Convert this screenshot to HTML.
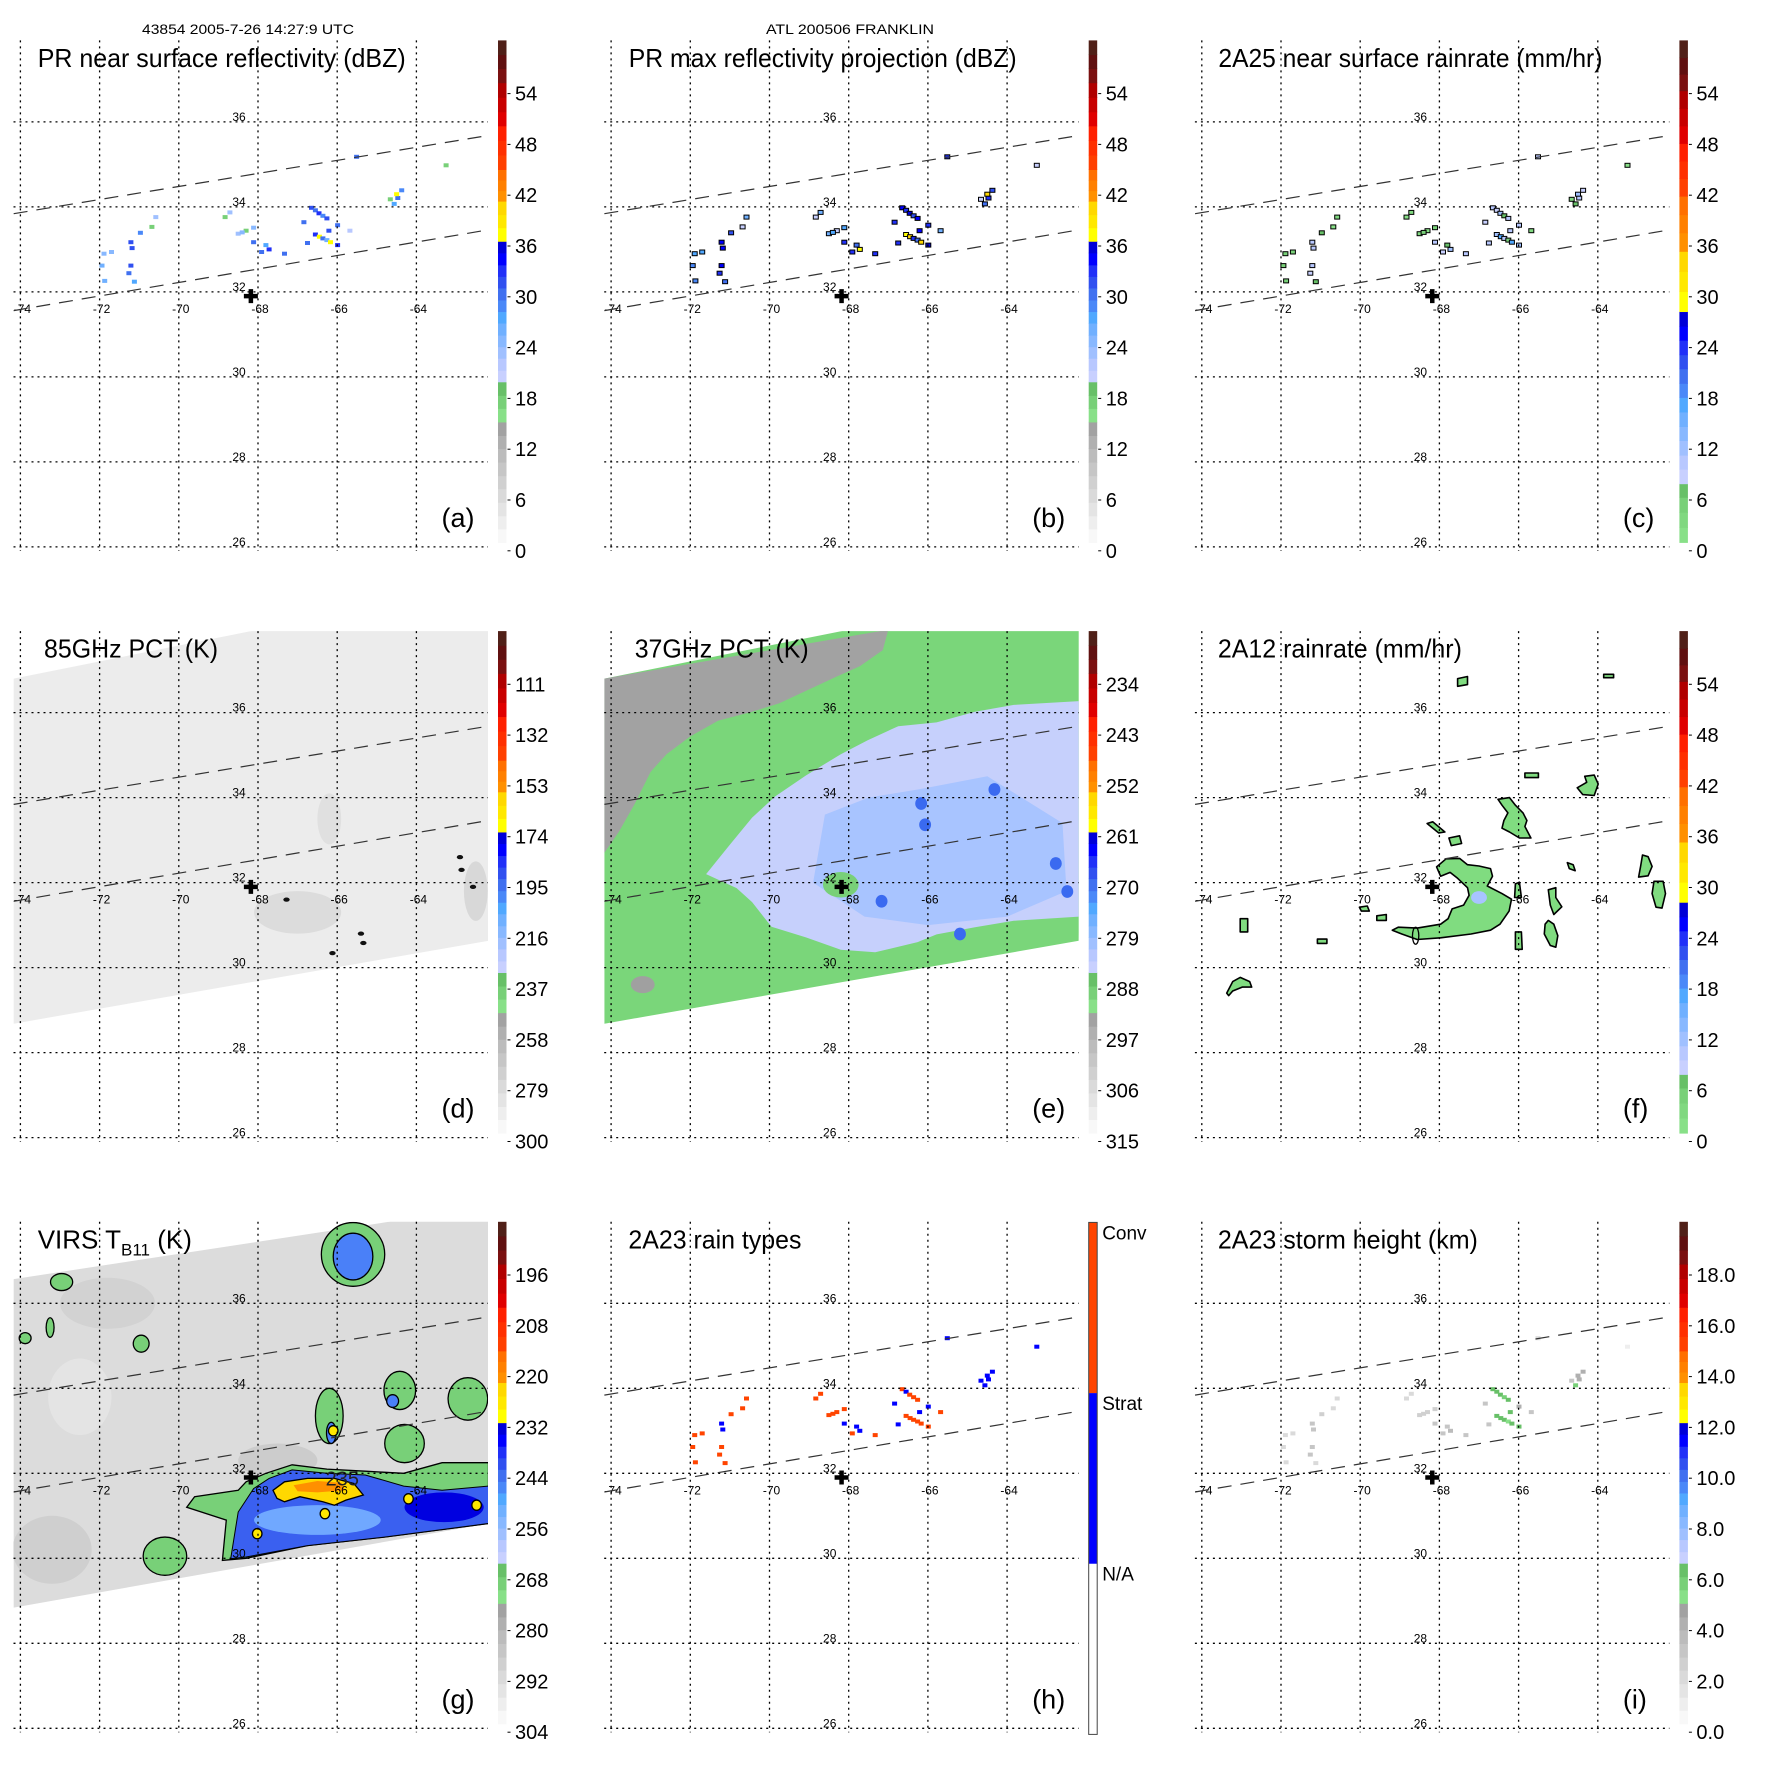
<!DOCTYPE html>
<html><head><meta charset="utf-8">
<style>
html,body{margin:0;padding:0;background:#fff;}
svg{display:block;font-family:"Liberation Sans",Arial,sans-serif;}
</style></head>
<body>
<svg id="fig" width="1771" height="1771" viewBox="0 0 1771 1771" xmlns="http://www.w3.org/2000/svg">
<rect x="0" y="0" width="1771" height="1771" fill="#fff"/>
<text x="142" y="34" font-size="14" textLength="212" lengthAdjust="spacingAndGlyphs">43854 2005-7-26 14:27:9 UTC</text>
<text x="766" y="34" font-size="14" textLength="168" lengthAdjust="spacingAndGlyphs">ATL 200506 FRANKLIN</text>
</svg>
<script>
// ---------- data ----------
const lonTicks = [-74, -72, -70, -68, -66, -64];
const latTicks = [26, 28, 30, 32, 34, 36];
const centerLon = -68.18, centerLat = 31.9;
// PR rain cells
const prLon = [-64.47,-64.37,-64.56,-64.66,-64.50,-66.65,-66.55,-66.46,-66.36,-66.26,-65.99,-66.21,-66.55,-66.45,-66.36,-66.26,-66.17,-65.99,-65.68,-66.75,-66.84,-68.11,-67.72,-67.33,-67.91,-68.50,-68.30,-68.71,-68.83,-68.11,-70.58,-70.68,-70.97,-71.21,-71.18,-71.21,-71.26,-71.70,-71.89,-71.94,-71.87,-71.12,-65.51,-63.25,-68.40,-67.80];
const prLat = [34.21,34.39,34.07,34.18,34.30,33.98,33.92,33.85,33.79,33.73,33.57,33.44,33.35,33.30,33.26,33.22,33.17,33.10,33.44,33.15,33.64,33.17,33.00,32.90,32.94,33.37,33.44,33.87,33.76,33.51,33.76,33.53,33.39,33.17,33.03,32.62,32.44,32.94,32.90,32.62,32.26,32.24,35.18,34.98,33.40,33.10];
const prDbz = [30,28,27,17,37,31,29,32,28,31,30,31,33,37,30,26,37,32,22,30,29,30,33,30,29,23,17,23,17,24,23,17,28,31,31,31,29,24,24,25,25,27,30,17,24,27];
const prRain = [9,8,7,2,12,10,8,11,7,10,9,10,12,16,9,5,16,11,3,9,8,9,12,9,8,3,1,3,1,4,3,1,7,10,10,10,8,4,4,5,5,7,9,1,4,7];
const prType = ['S','S','S','S','S','C','S','C','C','C','S','S','C','C','C','C','C','C','C','S','S','S','S','C','C','C','C','C','C','C','C','C','C','S','S','C','C','C','C','C','C','C','S','S','C','S'];
const prHeight = [4,4,5.5,3,4,6,6,6,5.5,6,4,6,6,6,6,5,6,6,3,3,3,3,3.5,3,3,2.5,2.5,2,2,2.5,2,2,2.5,3,3,3,3,2,2,2,2,2,2,1,2.5,3];
// colour bar tick labels
const dbzLabels = ['0','6','12','18','24','30','36','42','48','54'];
const pct85Labels = ['300','279','258','237','216','195','174','153','132','111'];
const pct37Labels = ['315','306','297','288','279','270','261','252','243','234'];
const virsLabels = ['304','292','280','268','256','244','232','220','208','196'];
const heightLabels = ['0.0','2.0','4.0','6.0','8.0','10.0','12.0','14.0','16.0','18.0'];
const typeLabels = ['N/A','Strat','Conv'];
// swath geometry (lon/lat)
const prSwathUpper = [[-74.17,33.84],[-62.19,35.68]];
const prSwathLower = [[-74.17,31.56],[-62.19,33.46]];
const pmiSwath = [[-74.17,36.80],[-68.0,37.95],[-62.0,37.95],[-62.19,30.63],[-74.17,28.68]];
const pct37Gray = [[-74.17,36.80],[-67.0,37.95],[-67.14,37.47],[-67.72,37.09],[-68.3,36.85],[-69.08,36.51],[-69.75,36.22],[-70.44,36.02],[-71.3,35.81],[-72.0,35.44],[-72.6,35.02],[-73.0,34.61],[-73.4,33.86],[-73.8,33.2],[-74.17,32.7]];
const pct37Lav = [[-69.85,34.03],[-69.08,34.52],[-68.2,35.02],[-67.52,35.35],[-66.75,35.68],[-65.78,35.77],[-64.81,36.02],[-63.83,36.18],[-62.18,36.27],[-62.18,31.2],[-63.83,31.1],[-64.81,30.95],[-65.78,30.78],[-66.26,30.6],[-67.33,30.36],[-68.2,30.42],[-69.08,30.71],[-69.95,30.96],[-70.44,31.54],[-70.83,31.87],[-71.6,32.2],[-71.02,32.87],[-70.44,33.53]];
const pct37Blue = [[-68.6,33.6],[-67.5,34.0],[-66.2,34.2],[-64.5,34.5],[-62.6,33.4],[-62.5,31.8],[-64.0,31.2],[-66.0,31.0],[-67.6,31.2],[-68.9,32.0]];
const pct37Spots = [[-67.17,31.56],[-62.48,31.79],[-65.19,30.79],[-66.17,33.86],[-66.07,33.36],[-64.32,34.19],[-62.77,32.45]];
const pct85Spots = [[-67.28,31.6],[-65.34,30.58],[-62.86,32.3],[-62.57,31.9],[-66.12,30.34],[-62.9,32.6],[-65.4,30.8]];
const virsSwath = [[-74.17,36.57],[-64.47,37.95],[-62.0,37.95],[-62.18,30.82],[-74.17,28.84]];
const virsStormGreen = [[-68.9,29.95],[-68.8,30.9],[-69.8,31.2],[-69.6,31.45],[-68.5,31.6],[-68.3,31.8],[-67.8,32.0],[-67.14,32.2],[-66.26,32.1],[-65.29,32.05],[-64.32,32.0],[-63.35,32.25],[-62.18,32.25],[-62.18,30.82],[-64.81,30.5],[-66.75,30.3],[-68.3,30.0]];
const virsStormBlue = [[-68.69,29.99],[-68.5,31.09],[-68.11,31.64],[-67.72,31.88],[-67.14,32.08],[-66.26,32.0],[-65.29,31.96],[-64.32,31.7],[-63.35,31.6],[-62.18,31.7],[-62.18,30.82],[-64.81,30.5],[-66.75,30.3],[-68.3,30.03]];
const virsCore = [[-67.62,31.60],[-67.33,31.80],[-66.75,31.88],[-66.07,31.88],[-65.58,31.76],[-65.34,31.49],[-65.78,31.37],[-66.07,31.25],[-66.36,31.33],[-66.94,31.45],[-67.33,31.33],[-67.52,31.41]];
const virsOrange = [[-67.1,31.72],[-66.5,31.82],[-65.9,31.78],[-65.8,31.6],[-66.5,31.55],[-67.0,31.58]];
const virsYellowSpots = [[-62.48,31.25],[-66.31,31.05],[-68.02,30.58],[-66.1,33.0],[-64.2,31.4]];
const virsGreenClusters = [[-65.6,37.15,0.8,0.75],[-66.2,33.35,0.35,0.65],[-64.42,33.95,0.4,0.45],[-62.7,33.75,0.5,0.5],[-64.3,32.7,0.5,0.45],[-70.35,30.05,0.55,0.45],[-73.25,35.43,0.1,0.23],[-73.88,35.18,0.15,0.13],[-72.96,36.5,0.28,0.2],[-70.95,35.05,0.2,0.2]];
const virsBlueClusters = [[-65.6,37.1,0.5,0.55],[-66.15,32.95,0.12,0.25],[-64.6,33.7,0.15,0.15]];
const f12Blobs = [
 [[-68.07,32.37],[-67.83,32.56],[-67.49,32.57],[-67.29,32.42],[-67.0,32.39],[-66.71,32.33],[-66.66,32.15],[-66.79,31.92],[-66.42,31.74],[-66.18,31.61],[-66.24,31.33],[-66.47,31.02],[-66.71,30.88],[-67.2,30.79],[-67.97,30.7],[-68.56,30.66],[-68.95,30.79],[-69.19,30.88],[-69.04,30.95],[-68.56,30.93],[-67.97,31.02],[-67.78,31.15],[-67.68,31.38],[-67.39,31.47],[-67.25,31.7],[-67.29,31.88],[-67.54,32.1],[-67.73,32.24],[-67.97,32.15]],
 [[-66.52,33.96],[-66.23,34.0],[-66.08,33.82],[-65.89,33.64],[-65.79,33.46],[-65.84,33.32],[-65.69,33.05],[-65.98,33.05],[-66.23,33.19],[-66.42,33.28],[-66.37,33.46],[-66.27,33.64],[-66.42,33.82]],
 [[-64.33,34.5],[-64.09,34.53],[-63.99,34.32],[-64.09,34.05],[-64.38,34.07],[-64.52,34.23],[-64.28,34.36]],
 [[-73.37,29.4],[-73.22,29.67],[-73.03,29.77],[-72.79,29.67],[-72.74,29.54],[-72.98,29.54],[-73.22,29.45],[-73.32,29.34]],
 [[-65.25,31.11],[-65.11,31.02],[-65.01,30.75],[-65.06,30.48],[-65.2,30.52],[-65.35,30.79],[-65.33,31.02]],
 [[-65.25,31.83],[-65.06,31.88],[-65.06,31.65],[-64.91,31.43],[-65.11,31.25],[-65.2,31.47]],
 [[-66.08,30.84],[-65.93,30.84],[-65.91,30.43],[-66.08,30.43]],
 [[-66.08,31.97],[-65.98,32.01],[-65.93,31.65],[-66.1,31.65]],
 [[-62.87,32.65],[-62.73,32.61],[-62.63,32.38],[-62.73,32.16],[-62.97,32.13],[-62.92,32.38]],
 [[-62.58,32.03],[-62.35,32.03],[-62.29,31.74],[-62.38,31.4],[-62.53,31.42],[-62.63,31.74]],
 [[-67.76,33.05],[-67.49,33.1],[-67.44,32.92],[-67.7,32.87]],
 [[-68.31,33.39],[-68.17,33.43],[-67.86,33.19],[-68.02,33.17]],
 [[-70.02,31.42],[-69.82,31.45],[-69.77,31.33],[-69.97,31.33]],
 [[-69.58,31.22],[-69.34,31.25],[-69.34,31.11],[-69.58,31.11]],
 [[-73.03,31.15],[-72.84,31.15],[-72.84,30.84],[-73.03,30.84]],
 [[-71.08,30.67],[-70.84,30.67],[-70.84,30.57],[-71.08,30.57]],
 [[-65.84,34.58],[-65.5,34.58],[-65.5,34.47],[-65.84,34.47]],
 [[-67.54,36.8],[-67.29,36.85],[-67.29,36.66],[-67.54,36.62]],
 [[-63.85,36.9],[-63.6,36.9],[-63.6,36.82],[-63.85,36.82]],
 [[-64.77,32.47],[-64.62,32.42],[-64.57,32.28],[-64.72,32.33]]
];

// ---------- palettes ----------
const palDbz = [[0,'#f8f8f8'],[0.027,'#eeeeee'],[0.053,'#e4e4e4'],[0.08,'#dadada'],[0.107,'#d0d0d0'],[0.133,'#c6c6c6'],[0.16,'#bcbcbc'],[0.187,'#b0b0b0'],[0.213,'#a2a2a2'],[0.24,'#88e088'],[0.267,'#78d078'],[0.293,'#68c068'],[0.32,'#c8d0ff'],[0.343,'#b8c8ff'],[0.367,'#a0c0ff'],[0.39,'#88b8ff'],[0.413,'#70b0ff'],[0.437,'#50a8ff'],[0.46,'#4a88f8'],[0.483,'#4070f0'],[0.507,'#3050f0'],[0.53,'#2030f8'],[0.553,'#0000ff'],[0.577,'#0000d8'],[0.6,'#ffff00'],[0.627,'#ffe800'],[0.653,'#ffd800'],[0.68,'#ff9000'],[0.701,'#ff8000'],[0.722,'#ff7000'],[0.743,'#ff4000'],[0.772,'#ff3000'],[0.801,'#ff2000'],[0.83,'#e00000'],[0.858,'#c80000'],[0.887,'#b00000'],[0.916,'#7a1010'],[0.944,'#601010'],[0.972,'#502018']];
const palRain = [[0,'#88e088'],[0.03,'#80d880'],[0.06,'#78d078'],[0.09,'#68c068'],[0.117,'#c8d0ff'],[0.146,'#b8c8ff'],[0.174,'#a0c0ff'],[0.203,'#88b8ff'],[0.231,'#70b0ff'],[0.26,'#50a8ff'],[0.289,'#4a88f8'],[0.317,'#4070f0'],[0.346,'#3050f0'],[0.374,'#2030f8'],[0.403,'#0000ff'],[0.431,'#0000d8'],[0.46,'#ffff00'],[0.5,'#ffe800'],[0.54,'#ffd800'],[0.58,'#ff9000'],[0.617,'#ff8000'],[0.653,'#ff7000'],[0.69,'#ff4000'],[0.725,'#ff3000'],[0.76,'#ff2000'],[0.795,'#e00000'],[0.83,'#c80000'],[0.865,'#b00000'],[0.9,'#7a1010'],[0.933,'#601010'],[0.966,'#502018']];
function palColor(pal, f){ let c = pal[0][1]; for (const b of pal){ if (f >= b[0]) c = b[1]; } return c; }

// ---------- geometry ----------
const SVGNS = 'http://www.w3.org/2000/svg';
const svg = document.getElementById('fig');
const STEP = 590.7;
const LONPX = 39.6, LATPX = 42.5;
function X(p, lon){ return p.ox + 20.4 + (lon + 74) * LONPX; }
function Y(p, lat){ return p.oy + 546.9 - (lat - 26) * LATPX; }
function mk(tag, attrs, parent){ const e = document.createElementNS(SVGNS, tag); for (const k in attrs) e.setAttribute(k, attrs[k]); (parent || svg).appendChild(e); return e; }
function pts(p, arr){ return arr.map(a => X(p,a[0]).toFixed(1) + ',' + Y(p,a[1]).toFixed(1)).join(' '); }

const panels = [
 {id:'a', col:0,row:0, title:'PR near surface reflectivity (dBZ)', tx:37.7, tw:368, pal:palDbz, labels:dbzLabels},
 {id:'b', col:1,row:0, title:'PR max reflectivity projection (dBZ)', tx:38, tw:388, pal:palDbz, labels:dbzLabels},
 {id:'c', col:2,row:0, title:'2A25 near surface rainrate (mm/hr)', tx:37, tw:384, pal:palRain, labels:dbzLabels},
 {id:'d', col:0,row:1, title:'85GHz PCT (K)', tx:44, tw:174, pal:palDbz, labels:pct85Labels},
 {id:'e', col:1,row:1, title:'37GHz PCT (K)', tx:44, tw:174, pal:palDbz, labels:pct37Labels},
 {id:'f', col:2,row:1, title:'2A12 rainrate (mm/hr)', tx:36.5, tw:244, pal:palRain, labels:dbzLabels},
 {id:'g', col:0,row:2, title:'VIRS', tx:37.7, tw:146, pal:palDbz, labels:virsLabels},
 {id:'h', col:1,row:2, title:'2A23 rain types', tx:37.7, tw:173, pal:null, labels:typeLabels},
 {id:'i', col:2,row:2, title:'2A23 storm height (km)', tx:36.5, tw:260, pal:palDbz, labels:heightLabels}
];

function drawCells(p, g, colorFn, stroke){
  for (let i = 0; i < prLon.length; i++){
    const r = mk('rect', {x:(X(p,prLon[i])-2.5).toFixed(1), y:(Y(p,prLat[i])-2).toFixed(1), width:5, height:4, fill:colorFn(i)}, g);
    if (stroke) { r.setAttribute('stroke','#000'); r.setAttribute('stroke-width','1'); }
    
    
  }
}
function ellipse(p, g, c, fill, stroke, name){
  const e = mk('ellipse', {cx:X(p,c[0]), cy:Y(p,c[1]), rx:c[2]*LONPX, ry:c[3]*LATPX, fill:fill}, g);
  if (stroke) { e.setAttribute('stroke', stroke); e.setAttribute('stroke-width','1.3'); }
  
  
  return e;
}

panels.forEach(p => {
  p.ox = p.col * STEP; p.oy = p.row * STEP;
  const pg = mk('g', {});
  
  
  const cp = mk('clipPath', {id:'clip-' + p.id}, pg);
  mk('rect', {x:p.ox+13.5, y:p.oy+40.4, width:474.5, height:510.6}, cp);
  const dg = mk('g', {'clip-path':'url(#clip-' + p.id + ')'}, pg);
  
  

  if (p.id === 'a') drawCells(p, dg, i => palColor(palDbz, prDbz[i]/60), false);
  if (p.id === 'b') drawCells(p, dg, i => palColor(palDbz, (prDbz[i]+3)/60), true);
  if (p.id === 'c') drawCells(p, dg, i => palColor(palRain, prRain[i]/60), true);
  if (p.id === 'h') drawCells(p, dg, i => prType[i] === 'C' ? '#ff4400' : '#0000ff', false);
  if (p.id === 'i') drawCells(p, dg, i => palColor(palDbz, prHeight[i]/20), false);
  if (p.id === 'd'){
    const s = mk('polygon', {points:pts(p,pmiSwath), fill:'#ececec'}, dg);
     
    ellipse(p, dg, [-67.0,31.3,1.1,0.5], '#dcdcdc', null, 'cloud-shading');
    ellipse(p, dg, [-66.2,33.5,0.3,0.6], '#e0e0e0', null, 'cloud-shading');
    ellipse(p, dg, [-62.5,31.8,0.3,0.7], '#d8d8d8', null, 'cloud-shading');
    pct85Spots.forEach(s2 => ellipse(p, dg, [s2[0],s2[1],0.08,0.05], '#111', null, 'ice-scatter-spot'));
  }
  if (p.id === 'e'){
    const s = mk('polygon', {points:pts(p,pmiSwath), fill:'#7ad67a'}, dg);
     
    const gpoly = mk('polygon', {points:pts(p,pct37Gray), fill:'#a2a2a2'}, dg);
     
    const lav = mk('polygon', {points:pts(p,pct37Lav), fill:'#c6d0fc'}, dg);
     
    const bl = mk('polygon', {points:pts(p,pct37Blue), fill:'#a8c4ff'}, dg);
     
    ellipse(p, dg, [-68.2,31.95,0.45,0.3], '#78d078', null, 'eye-region');
    ellipse(p, dg, [-73.2,29.6,0.3,0.2], '#a0a0a0', null, 'warm-spot');
    pct37Spots.forEach(s2 => ellipse(p, dg, [s2[0],s2[1],0.15,0.15], '#3a6af0', null, 'low-pct-spot'));
  }
  if (p.id === 'f'){
    f12Blobs.forEach(b => {
      const e = mk('polygon', {points:pts(p,b), fill:'#80dc80', stroke:'#000', 'stroke-width':1.6, 'stroke-linejoin':'round'}, dg);
      
      
    });
    ellipse(p, dg, [-67.0,31.65,0.2,0.15], '#a8c4ff', null, 'moderate-rain');
    ellipse(p, dg, [-68.6,30.75,0.08,0.2], 'none', '#000', 'contour-ring');
  }
  if (p.id === 'g'){
    const s = mk('polygon', {points:pts(p,virsSwath), fill:'#dcdcdc'}, dg);
     
    ellipse(p, dg, [-73.2,30.2,1.0,0.8], '#cfcfcf', null, 'cloud-shading');
    ellipse(p, dg, [-71.8,36.0,1.2,0.6], '#d2d2d2', null, 'cloud-shading');
    ellipse(p, dg, [-67.5,32.3,1.0,0.4], '#cccccc', null, 'cloud-shading');
    ellipse(p, dg, [-72.5,33.8,0.8,0.9], '#e4e4e4', null, 'clear-area');
    virsGreenClusters.forEach(c => ellipse(p, dg, c, '#78d078', '#000', 'cold-cloud'));
    virsBlueClusters.forEach(c => ellipse(p, dg, c, '#4a80f8', '#000', 'very-cold-cloud'));
    const sg = mk('polygon', {points:pts(p,virsStormGreen), fill:'#78d078', stroke:'#000', 'stroke-width':1.3}, dg);
     
    const sb = mk('polygon', {points:pts(p,virsStormBlue), fill:'#3a60f0', stroke:'#000', 'stroke-width':1}, dg);
     
    ellipse(p, dg, [-66.5,30.9,1.6,0.35], '#70a8ff', null, 'cloud-shading');
    ellipse(p, dg, [-63.3,31.2,1.0,0.35], '#0000e0', null, 'cloud-shading');
    const core = mk('polygon', {points:pts(p,virsCore), fill:'#ffd800', stroke:'#000', 'stroke-width':1.3}, dg);
     
    const oc = mk('polygon', {points:pts(p,virsOrange), fill:'#ff9000'}, dg);
     
    virsYellowSpots.forEach(s2 => ellipse(p, dg, [s2[0],s2[1],0.12,0.12], '#ffe800', '#000', 'cold-spot'));
    const lab = mk('text', {x:X(p,-65.87), y:Y(p,31.88)+7, 'font-size':20, 'text-anchor':'middle', fill:'#222'}, dg);
    lab.textContent = '235';
     
  }

  // ---- grid ----
  latTicks.forEach(lat => {
    const l = mk('line', {x1:p.ox+13.5, x2:p.ox+488, y1:Y(p,lat), y2:Y(p,lat), stroke:'#000', 'stroke-width':1.3, 'stroke-dasharray':'2,4'}, pg);
     
    const t = mk('text', {x:X(p,-68)-19, y:Y(p,lat)-1, 'font-size':12, 'text-anchor':'middle'}, pg);
    t.textContent = String(lat);
     
  });
  lonTicks.forEach(lon => {
    const l = mk('line', {x1:X(p,lon), x2:X(p,lon), y1:p.oy+40.4, y2:p.oy+551, stroke:'#000', 'stroke-width':1.3, 'stroke-dasharray':'2,4'}, pg);
     
    const t = mk('text', {x:X(p,lon)+2, y:Y(p,32)+21, 'font-size':12, 'text-anchor':'middle'}, pg);
    t.textContent = String(lon);
     
  });
  [prSwathUpper, prSwathLower].forEach(s => {
    const l = mk('line', {x1:X(p,s[0][0]), y1:Y(p,s[0][1]), x2:X(p,s[1][0]), y2:Y(p,s[1][1]), stroke:'#333', 'stroke-width':1.2, 'stroke-dasharray':'14,9'}, pg);
     
  });
  const cx = X(p,centerLon), cy = Y(p,centerLat);
  const cr = mk('path', {d:`M${cx-7},${cy}H${cx+7}M${cx},${cy-7}V${cy+7}`, stroke:'#000', 'stroke-width':4.5}, pg);
   

  // ---- title / panel letter ----
  const tt = mk('text', {x:p.ox+p.tx, y:p.oy+67, 'font-size':26, textLength:p.tw, lengthAdjust:'spacingAndGlyphs'}, pg);
  if (p.id === 'g'){
    tt.removeAttribute('textLength');
    const a = mk('tspan', {}, tt); a.textContent = 'VIRS T';
    const b = mk('tspan', {'font-size':17, dy:7}, tt); b.textContent = 'B11';
    const c = mk('tspan', {dy:-7}, tt); c.textContent = ' (K)';
  } else tt.textContent = p.title;
   
  const pl = mk('text', {x:p.ox+441.5, y:p.oy+527, 'font-size':27}, pg);
  pl.textContent = '(' + p.id + ')';
   

  // ---- colour bar ----
  const cb = mk('g', {}, pg);
   
  const bx = p.ox + 498, bw = 8.5;
  if (p.pal){
    const top = p.oy + 40.4, bot = p.oy + 542.3, H = bot - top;
    p.pal.forEach((b, k) => {
      const f0 = b[0], f1 = k + 1 < p.pal.length ? p.pal[k+1][0] : 1;
      const r = mk('rect', {x:bx, y:(bot - f1*H).toFixed(2), width:bw, height:((f1-f0)*H+0.6).toFixed(2), fill:b[1]}, cb);
       
    });
    p.labels.forEach((lab, i) => {
      const y = p.oy + 550.8 - i * 50.8;
      const tk = mk('line', {x1:bx+bw+1, x2:bx+bw+4, y1:y, y2:y, stroke:'#000', 'stroke-width':1}, cb);
       
      const t = mk('text', {x:p.ox+515, y:y+7, 'font-size':20}, cb);
      t.textContent = lab;
       
    });
  } else {
    const top = p.oy + 41, bot = p.oy + 553, th = (bot - top) / 3;
    const cols = ['#ffffff','#0000ff','#ff4400'];
    cols.forEach((c, i) => {
      const r = mk('rect', {x:bx, y:bot-(i+1)*th, width:bw, height:th, fill:c}, cb);
       
    });
    const fr = mk('rect', {x:bx, y:top, width:bw, height:bot-top, fill:'none', stroke:'#444', 'stroke-width':1}, cb);
     
    typeLabels.forEach((lab, i) => {
      const t = mk('text', {x:p.ox+511.5, y:bot-(i+1)*th + 17, 'font-size':19}, cb);
      t.textContent = lab;
       
    });
  }
});
</script>
</body></html>
